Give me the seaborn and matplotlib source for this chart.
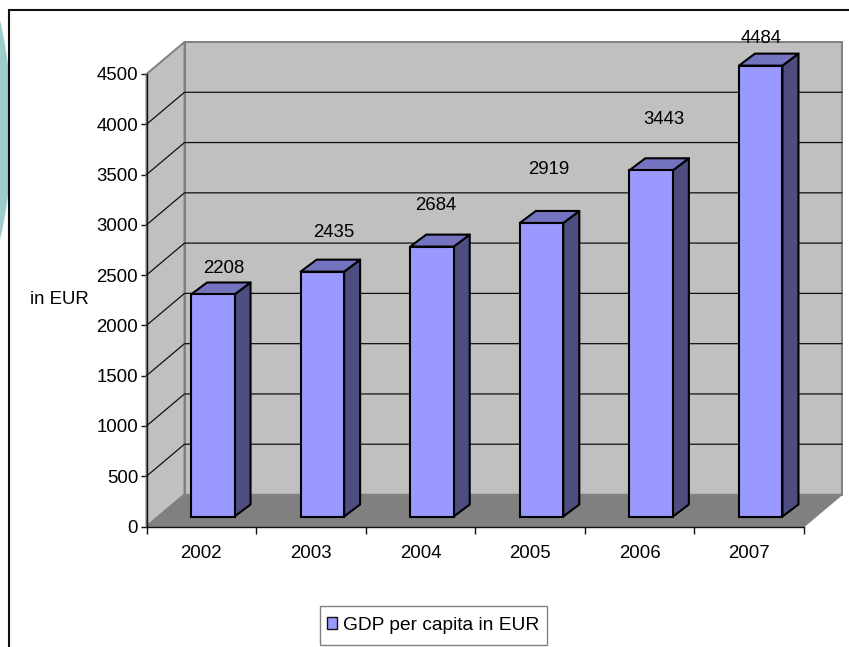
import matplotlib
matplotlib.use("Agg")
import matplotlib.pyplot as plt
from matplotlib.patches import Rectangle, Ellipse, Patch
from matplotlib.transforms import Affine2D
import pandas as pd
import seaborn as sns

years = ["2002", "2003", "2004", "2005", "2006", "2007"]
gdp = [2208, 2435, 2684, 2919, 3443, 4484]
y_ticks = [0, 500, 1000, 1500, 2000, 2500, 3000, 3500, 4000, 4500]
series_name = "GDP per capita in EUR"
unit_label = "in EUR"

W, H = 849, 647
sns.set_theme(style="white")
plt.rcParams["font.family"] = ["Liberation Sans", "DejaVu Sans"]
FS = 13.4

df = pd.DataFrame({"year": years, "gdp": gdp})

fig = plt.figure(figsize=(W / 100, H / 100), dpi=100, facecolor="white")

# slide decoration and chart frame, in pixel terms of the figure
def fx(p): return p / W
def fy(p): return 1 - p / H

fig.add_artist(Ellipse((fx(-60), fy(130)), 144 / W, 398 / H, transform=fig.transFigure,
                       facecolor="#9CCCCC", edgecolor="none", zorder=-2))
fig.add_artist(Rectangle((fx(8.5), fy(670)), 870 / W, 660 / H, transform=fig.transFigure,
                         facecolor="white", edgecolor="#111111", linewidth=1.5, zorder=-1))
# legend box
fig.add_artist(Rectangle((fx(320), fy(645)), 227 / W, 39 / H, transform=fig.transFigure,
                         facecolor="white", edgecolor="#808080", linewidth=1.0, zorder=-0.5))

L, R, T, B = 146.5, 804, 74, 526.5
ax = fig.add_axes([fx(L), fy(B), (R - L) / W, (B - T) / H])
ax.patch.set_visible(False)

sns.barplot(data=df, x="year", y="gdp", color="#9999FF", saturation=1, width=0.397,
            edgecolor="black", linewidth=1.5, ax=ax, zorder=4)
ax.set_xlim(-0.5, 5.5)
ax.set_ylim(0, 4500)

ux = 6 / (R - L)        # data units per pixel, horizontally
uy = 4500 / (B - T)     # data units per pixel, vertically
wall_dx, wall_dy = 38 * ux, 32 * uy
bar_dx, bar_dy = 11.5 * ux, 10 * uy
side_dx, side_dy = 16 * ux, 12 * uy

x0, x1 = ax.get_xlim()
ymax = y_ticks[-1]

# front faces from seaborn, collected before the other polygons are added
bars = list(ax.patches)

# walls and floor
ax.fill([x0 + wall_dx, x1 + wall_dx, x1 + wall_dx, x0 + wall_dx],
        [wall_dy, wall_dy, ymax + wall_dy, ymax + wall_dy],
        facecolor="#C0C0C0", edgecolor="#808080", linewidth=1.4, zorder=1, clip_on=False)
ax.fill([x0, x0 + wall_dx, x0 + wall_dx, x0],
        [0, wall_dy, ymax + wall_dy, ymax],
        facecolor="#C0C0C0", edgecolor="#808080", linewidth=1.4, zorder=1, clip_on=False)
ax.fill([x0, x1, x1 + wall_dx, x0 + wall_dx],
        [0, 0, wall_dy, wall_dy],
        facecolor="#808080", edgecolor="#808080", linewidth=1.0, zorder=1.1, clip_on=False)

# gridlines
for v in y_ticks[1:-1]:
    ax.plot([x0, x0 + wall_dx, x1 + wall_dx], [v, v + wall_dy, v + wall_dy],
            color="#111111", linewidth=0.9, zorder=1.5, clip_on=False)

# 3D bars: front faces shifted into the plot depth, side and top faces added
shift = Affine2D().translate(bar_dx, bar_dy) + ax.transData
for b in bars:
    b.set_transform(shift)
    b.set_clip_on(False)
    xl, xr, top = b.get_x(), b.get_x() + b.get_width(), b.get_height()
    ax.fill([xr + bar_dx, xr + bar_dx + side_dx, xr + bar_dx + side_dx, xr + bar_dx],
            [bar_dy, bar_dy + side_dy, top + bar_dy + side_dy, top + bar_dy],
            facecolor="#4D4D80", edgecolor="black", linewidth=1.5, joinstyle="round",
            zorder=3.9, clip_on=False)
    ax.fill([xl + bar_dx, xr + bar_dx, xr + bar_dx + side_dx, xl + bar_dx + side_dx],
            [top + bar_dy, top + bar_dy, top + bar_dy + side_dy, top + bar_dy + side_dy],
            facecolor="#7373BF", edgecolor="black", linewidth=1.5, joinstyle="round",
            zorder=3.9, clip_on=False)

# value labels sit at irregular spots in the original
nudge_x = [11, 11, 4, 7, 13, 0]
nudge_y = [26, 39, 41, 53, 51, 27]
for i, v in enumerate(gdp):
    ax.annotate(str(v), xy=(i + bar_dx, v + bar_dy), xycoords="data",
                xytext=(nudge_x[i] * 0.72, nudge_y[i] * 0.72), textcoords="offset points",
                ha="center", va="center", fontsize=FS, color="black",
                annotation_clip=False, zorder=6)

# axes
sns.despine(ax=ax, top=True, right=True)
for s in ("left", "bottom"):
    ax.spines[s].set_color("#111111")
    ax.spines[s].set_linewidth(1.0)
    ax.spines[s].set_zorder(2)
ax.set_yticks(y_ticks)
ax.set_yticklabels([str(v) for v in y_ticks])
ax.set_xticks(range(len(years)))
ax.set_xticklabels(years)
ax.set_xticks([i - 0.5 for i in range(len(years) + 1)], minor=True)
ax.tick_params(axis="x", which="major", length=0, pad=13, labelsize=FS, labelcolor="black")
ax.tick_params(axis="x", which="minor", length=5, width=1.0, color="#111111", bottom=True)
ax.tick_params(axis="y", which="major", length=4.2, width=1.0, color="#111111", left=True,
               pad=1.8, labelsize=FS, labelcolor="black")
ax.set_xlabel("")
ax.set_ylabel(unit_label, rotation=0, fontsize=FS, color="black", ha="center", va="center")
ax.yaxis.set_label_coords((59 - L) / (R - L), (B - 299.5) / (B - T))

# legend
leg = ax.legend(handles=[Patch(facecolor="#9999FF", edgecolor="#111111", linewidth=1.0, label=series_name)],
                loc="center", bbox_to_anchor=(fx(433.5), fy(625.5)), bbox_transform=fig.transFigure,
                fontsize=13.8, frameon=False,
                handlelength=0.52, handleheight=0.62, handletextpad=0.32, borderpad=0.3, borderaxespad=0)
leg.get_texts()[0].set_color("black")

fig.savefig("out.png", dpi=100)
